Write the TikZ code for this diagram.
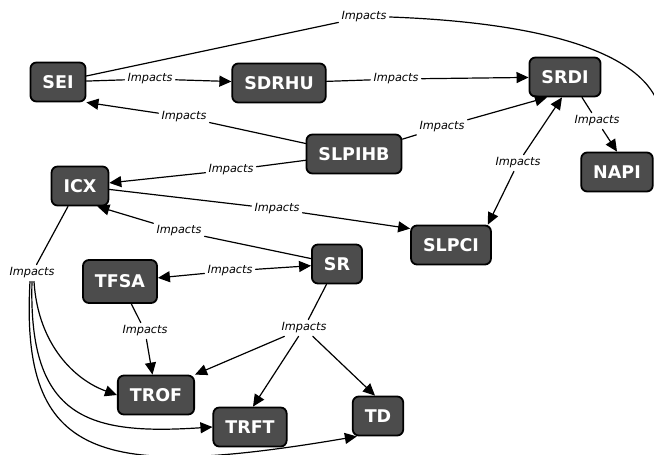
\documentclass[tikz,border=0pt]{standalone}
\usepackage{fontspec}
\setsansfont{DejaVu Sans}
\usetikzlibrary{arrows.meta}
\begin{document}
\begin{tikzpicture}[x=1pt,y=-1pt,>={Triangle[length=12pt,width=11pt]}, line join=round, line cap=round,
  concept/.style={draw=black,line width=1.8pt,fill=black!70,rounded corners=6pt,text=white,
    font=\sffamily\bfseries\fontsize{17.5}{17.5}\selectfont,minimum height=39pt,inner xsep=12pt},
  link/.style={fill=white,inner sep=2.5pt,font=\sffamily\itshape\fontsize{11.3}{11.3}\selectfont},
  every path/.append style={line width=1.2pt}]
\useasboundingbox (0,0) rectangle (654,455);
% concepts
\node[concept] (SEI) at (58,82) {SEI};
\node[concept] (SDRHU) at (279,83) {SDRHU};
\node[concept] (SRDI) at (565,77) {SRDI};
\node[concept] (SLPIHB) at (354,154) {SLPIHB};
\node[concept] (NAPI) at (617,172) {NAPI};
\node[concept] (ICX) at (80,186) {ICX};
\node[concept] (SLPCI) at (451,245) {SLPCI};
\node[concept] (SR) at (337,264) {SR};
\node[concept,minimum height=43pt] (TFSA) at (120,281.5) {TFSA};
\node[concept] (TROF) at (156,395) {TROF};
\node[concept] (TRFT) at (250,427) {TRFT};
\node[concept] (TD) at (378,416) {TD};
% linking phrases
\node[link] (l1) at (150,79) {Impacts};
\node[link] (l2) at (396,79) {Impacts};
\node[link] (l3) at (364,17) {Impacts};
\node[link] (l4) at (184,117) {Impacts};
\node[link] (l5) at (442,127) {Impacts};
\node[link] (l6) at (231,170) {Impacts};
\node[link] (l7) at (277,209) {Impacts};
\node[link] (l8) at (179,231) {Impacts};
\node[link] (l9) at (518,163) {Impacts};
\node[link] (l10) at (597,121) {Impacts};
\node[link] (l11) at (230,271) {Impacts};
\node[link] (l12) at (145,331) {Impacts};
\node[link] (l13) at (304,328) {Impacts};
\node[link] (l14) at (32,273) {Impacts};
% connectors
\draw (SEI)--(l1); \draw[->] (l1)--(SDRHU);
\draw (SDRHU)--(l2); \draw[->] (l2)--(SRDI);
\draw (SEI)--(l3);
\draw[->] (l3.east) .. controls (530,22) and (680,50) .. ([xshift=4pt]NAPI.north east);
\draw (SLPIHB)--(l4); \draw[->] (l4)--(SEI.south east);
\draw (SLPIHB)--(l5); \draw[->] (l5)--([xshift=-18pt]SRDI.south);
\draw (SLPIHB)--(l6); \draw[->] (l6)--(ICX);
\draw (ICX)--(l7); \draw[->] (l7)--([yshift=-4pt]SLPCI.north west);
\draw (SR)--(l8); \draw[->] (l8)--([xshift=-12pt]ICX.south east);
\draw[->] (l9)--([xshift=-3pt]SRDI.south); \draw[->] (l9)--([xshift=-4pt]SLPCI.north east);
\draw ([xshift=17pt]SRDI.south)--(l10); \draw[->] (l10)--(NAPI.north);
\draw[->] (l11)--(TFSA); \draw[->] (l11)--(SR);
\draw (TFSA)--(l12); \draw[->] (l12)--(TROF);
\draw (SR)--(l13);
\draw[->] (l13)--(TROF.north east);
\draw[->] (l13)--([xshift=3pt]TRFT.north);
\draw[->] (l13)--([xshift=-3pt]TD.north);
\draw ([xshift=-12pt]ICX.south)--(l14);
\draw[->] ([xshift=2pt]l14.south) .. controls (38,345) and (75,380) .. (TROF.west);
\draw[->] (l14.south) .. controls (28,420) and (90,435) .. (TRFT.west);
\draw[->] ([xshift=-2pt]l14.south) .. controls (20,460) and (100,480) .. ([xshift=5pt]TD.south west);
\end{tikzpicture}
\end{document}
